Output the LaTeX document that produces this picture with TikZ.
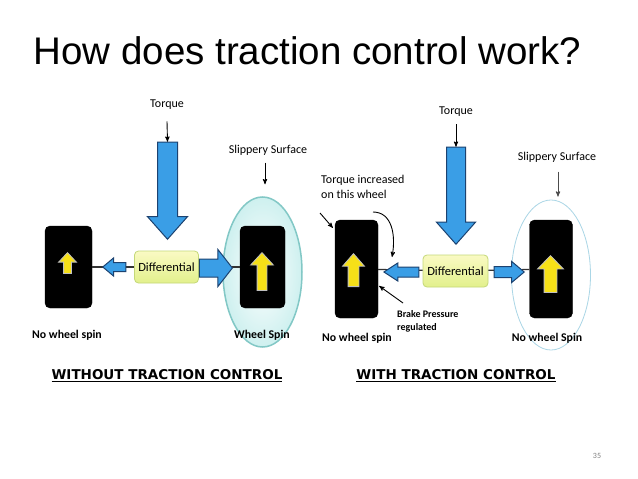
\documentclass[tikz,border=0pt]{standalone}
\usepackage{fontspec}
\setmainfont{Carlito}
\newfontfamily\titlefont{Liberation Sans}
\newfontfamily\headfont{DejaVu Sans}
\usetikzlibrary{arrows,shapes.geometric,shapes.arrows}

\definecolor{pushblue}{RGB}{58,158,230}
\definecolor{pushedge}{RGB}{28,66,112}
\definecolor{spinyellow}{RGB}{246,224,24}
\definecolor{difftop}{RGB}{250,250,196}
\definecolor{diffbot}{RGB}{226,240,140}
\definecolor{diffedge}{RGB}{196,216,120}
\definecolor{slipfill}{RGB}{206,240,239}
\definecolor{slipedge}{RGB}{130,200,198}
\definecolor{slipline}{RGB}{170,214,230}

\begin{document}
\begin{tikzpicture}[x=1pt,y=-1pt,>=stealth',
  wheel/.style={rectangle,draw=black,fill=black,rounded corners=5pt,inner sep=0pt,
    minimum width=45pt,minimum height=82pt},
  diff/.style={rectangle,draw=diffedge,line width=0.8pt,rounded corners=4pt,
    top color=difftop,bottom color=diffbot,minimum width=64pt,minimum height=32pt,
    inner xsep=2pt,font=\fontsize{12.5}{14}\selectfont},
  push/.style={single arrow,draw=pushedge,fill=pushblue,line width=1pt,inner sep=0pt},
  spin/.style={single arrow,draw=black!25,fill=spinyellow,line width=0.8pt,inner sep=0pt,
    rotate=90,anchor=tip},
  slip/.style={ellipse,minimum width=79pt,minimum height=150pt},
  label/.style={font=\fontsize{12}{14.5}\selectfont},
  spin label/.style={font=\bfseries\fontsize{11.8}{14}\selectfont},
  heading/.style={font=\headfont\bfseries\fontsize{13.5}{16}\selectfont},
  pointer/.style={->,line width=0.9pt}]

  \useasboundingbox[fill=white] (0,0) rectangle (638,479);

  \node[anchor=base west,font=\titlefont\fontsize{38.5}{44}\selectfont] (title) at (30,64)
    {How does traction control work?};

  % without traction control
  \node[slip,inner color=white,outer color=slipfill,draw=slipedge,line width=1.5pt] (el1) at (262.5,272) {};
  \node[wheel,minimum width=47pt] (wl1) at (68.5,267) {};
  \node[wheel] (wr1) at (262.5,267) {};
  \node[diff] (dl) at (166.5,267) {Differential};
  \path[draw=black!80,line width=1.2pt] (wl1) -- (dl) (dl) -- (wr1);

  \node[push,rotate=270,anchor=tip,minimum height=97pt,inner ysep=9.5pt,
    single arrow head extend=10pt,single arrow tip angle=83] (ta1) at (167.5,240) {};
  \node[push,rotate=180,anchor=tip,minimum height=23pt,inner ysep=4pt,
    single arrow head extend=4.5pt,single arrow tip angle=80] (pl1) at (102,267) {};
  \node[push,anchor=tip,minimum height=33pt,inner ysep=8.5pt,
    single arrow head extend=9.5pt,single arrow tip angle=104] (pr1) at (233,268) {};
  \node[spin,minimum height=21pt,inner ysep=3.5pt,single arrow head extend=5pt,
    single arrow tip angle=86] (s1) at (67.5,252) {};
  \node[spin,minimum height=38pt,inner ysep=4.5pt,single arrow head extend=6.5pt,
    single arrow tip angle=85] (s2) at (262,252) {};

  \node[label] (tq1) at (167,105) {Torque};
  \node[label] (ss1) at (268,150) {Slippery Surface};
  \draw[pointer] (tq1.south) ++(0,8) -- (ta1.tail);
  \draw[pointer,shorten <=4pt,shorten >=12pt] (ss1.south -| 265,0) -- (el1.north -| 265,0);

  \node[spin label] (nw1) at (67,335) {No wheel spin};
  \node[spin label] (ws1) at (262,335) {Wheel Spin};
  \node[heading] (h1) at (167,376) {\underline{WITHOUT TRACTION CONTROL}};

  % with traction control
  \node[slip,fill=white,draw=slipline,line width=0.8pt] (el2) at (551,275) {};
  \node[wheel,minimum width=43pt,minimum height=98pt] (wl2) at (356.5,269) {};
  \node[wheel,minimum width=43pt,minimum height=98pt] (wr2) at (551,269) {};
  \node[diff,minimum width=65pt] (dr) at (455.5,271) {Differential};
  \path[draw=black!80,line width=1.2pt] (wl2) -- (dr) (dr) -- (wr2);

  \node[push,rotate=270,anchor=tip,minimum height=97pt,inner ysep=9pt,
    single arrow head extend=10pt,single arrow tip angle=83] (ta2) at (456,245) {};
  \node[push,rotate=180,anchor=tip,minimum height=35pt,inner ysep=4.5pt,
    single arrow head extend=4pt,single arrow tip angle=66] (pl2) at (383,272) {};
  \node[push,anchor=tip,minimum height=30pt,inner ysep=5pt,
    single arrow head extend=5pt,single arrow tip angle=80] (pr2) at (525,272) {};
  \node[spin,minimum height=33pt,inner ysep=5pt,single arrow head extend=5.5pt,
    single arrow tip angle=82] (s3) at (353.5,253) {};
  \node[spin,minimum height=37pt,inner ysep=6pt,single arrow head extend=6.5pt,
    single arrow tip angle=88] (s4) at (550.5,255) {};

  \node[label] (tq2) at (456,112) {Torque};
  \node[label] (ss2) at (557,157) {Slippery Surface};
  \draw[pointer] (tq2.south) ++(0,4) -- (ta2.tail);
  \draw[pointer,black!70,shorten <=6pt,shorten >=3pt] (ss2.south -| 558,0) -- (el2.north -| 558,0);

  \node[label,anchor=north west,align=left,inner sep=0pt] (ti) at (321,175)
    {Torque increased\\on this wheel};
  \node[anchor=north west,align=left,inner sep=0pt,
    font=\bfseries\fontsize{10}{13}\selectfont] (bp) at (397,310) {Brake Pressure\\regulated};
  \coordinate (c1) at (373,212);
  \coordinate (c2) at (320,213);
  \draw[pointer] (c1) .. controls (392,212) and (396,235) .. ([shift={(9,-15)}]pl2.tip);
  \draw[pointer] (c2) -- ([shift={(-2,8)}]wl2.north west);
  \draw[pointer] ([shift={(6,-7)}]bp.north west) -- ([shift={(1,17)}]wl2.east);

  \node[spin label] (nw2) at (357,338) {No wheel spin};
  \node[spin label] (ws2) at (547,338) {No wheel Spin};
  \node[heading] (h2) at (456,376) {\underline{WITH TRACTION CONTROL}};

  \node[font=\fontsize{8}{10}\selectfont,text=black!50] (pg) at (597,456) {35};
\end{tikzpicture}
\end{document}
